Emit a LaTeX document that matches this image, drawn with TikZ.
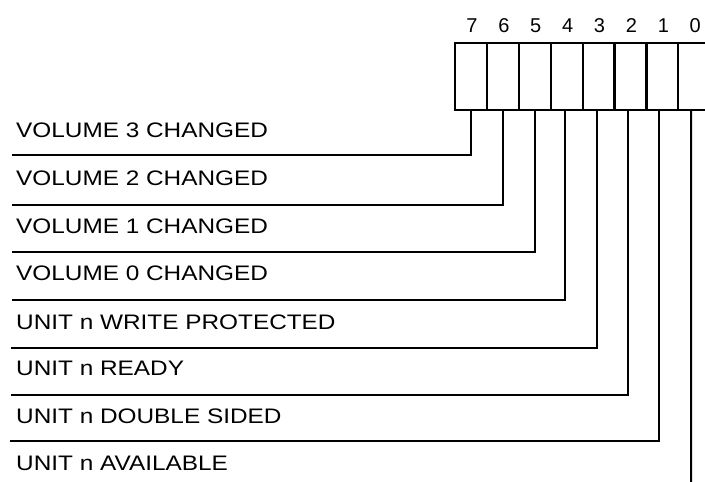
\documentclass[tikz,border=0pt]{standalone}
\usepackage{fontspec}
\setmainfont{Liberation Sans}
\usepackage{graphicx}
\newcommand{\wideTxt}[1]{\scalebox{1.16}[1]{#1}}
\begin{document}
\begin{tikzpicture}[x=1pt,y=-1pt,
  wire/.style={line width=2pt, line join=miter},
  cell/.style={draw, line width=2.2pt, minimum width=31.9pt, minimum height=67pt, inner sep=0pt, outer sep=0pt, anchor=north west},
  lbl/.style={anchor=west, inner sep=0pt, font=\fontsize{21}{24}\selectfont},
  bitnum/.style={anchor=south, inner sep=0pt, font=\fontsize{20}{22}\selectfont}]
\useasboundingbox (0,0) rectangle (705,482);
\clip (0,0) rectangle (705,482);
% register cells
\foreach \i in {0,...,7} {
  \node[cell] (c\i) at ({455+31.9*(7-\i)},43) {};
  \node[bitnum] (n\i) at ([yshift=10pt,xshift=1pt]c\i.north) {\i};
}
% labels
\node[lbl] (l7) at (16,130) {\wideTxt{VOLUME 3 CHANGED}};
\node[lbl] (l6) at (16,178) {\wideTxt{VOLUME 2 CHANGED}};
\node[lbl] (l5) at (16,226) {\wideTxt{VOLUME 1 CHANGED}};
\node[lbl] (l4) at (16,273) {\wideTxt{VOLUME 0 CHANGED}};
\node[lbl] (l3) at (16,322) {\wideTxt{UNIT n WRITE PROTECTED}};
\node[lbl] (l2) at (16,368) {\wideTxt{UNIT n READY}};
\node[lbl] (l1) at (16,416) {\wideTxt{UNIT n DOUBLE SIDED}};
\node[lbl] (l0) at (16,463) {\wideTxt{UNIT n AVAILABLE}};
% free ends of connectors
\coordinate (e7) at (12,155);
\coordinate (e6) at (12,204.5);
\coordinate (e5) at (12,252);
\coordinate (e4) at (12,300);
\coordinate (e3) at (11,348);
\coordinate (e2) at (11,394.5);
\coordinate (e1) at (10,441);
\coordinate (e0) at (691,490);
% connectors
\draw[wire] (c7.south) |- (e7);
\draw[wire] (c6.south) |- (e6);
\draw[wire] (c5.south) |- (e5);
\draw[wire] ([xshift=-1.5pt]c4.south) |- (e4);
\draw[wire] ([xshift=-1.5pt]c3.south) |- (e3);
\draw[wire] ([xshift=-2pt]c2.south) |- (e2);
\draw[wire] ([xshift=-3pt]c1.south) |- (e1);
\draw[wire] ([xshift=-3.25pt]c0.south) -- (e0);
\end{tikzpicture}
\end{document}
